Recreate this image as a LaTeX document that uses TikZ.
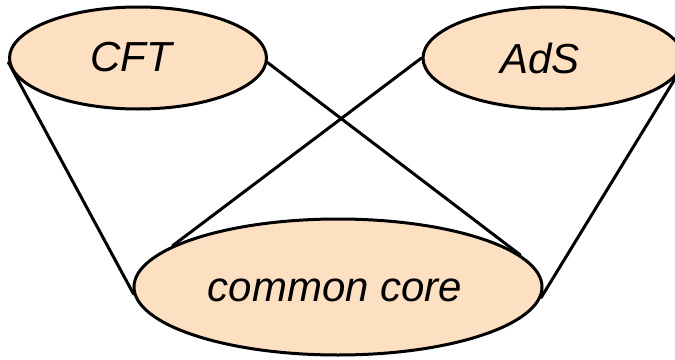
\documentclass[tikz,border=0pt]{standalone}
\usepackage{fontspec}
\setmainfont{Liberation Sans}
\usetikzlibrary{shapes.geometric}
\definecolor{peach}{RGB}{253,223,193}
\tikzset{
  blob/.style={ellipse, draw=black, line width=3pt, fill=peach, inner sep=0pt},
  lbl/.style={font=\fontsize{42}{48}\selectfont\itshape, inner sep=0pt},
  link/.style={line width=3pt, line cap=round}
}
\begin{document}
\begin{tikzpicture}[x=1pt, y=-1pt]
  \useasboundingbox (0,0) rectangle (675,359);
  % the three ellipses
  \node[blob, minimum width=257pt, minimum height=102pt] (cft) at (138,58) {};
  \node[blob, minimum width=260pt, minimum height=102pt] (ads) at (553,58) {};
  \node[blob, minimum width=408pt, minimum height=136pt] (core) at (338,287) {};
  % connectors
  \draw[link] (cft.182) -- (core.182);
  \draw[link] (cft.-2) -- (core.10);
  \draw[link] (ads.west) -- (core.166);
  \draw[link] (ads.-8.5) -- (core.-3);
  % labels
  \node[lbl] (cftlabel) at (131,57) {CFT};
  \node[lbl] (adslabel) at (540,58) {AdS};
  \node[lbl] (corelabel) at (335,290) {common core};
\end{tikzpicture}
\end{document}
